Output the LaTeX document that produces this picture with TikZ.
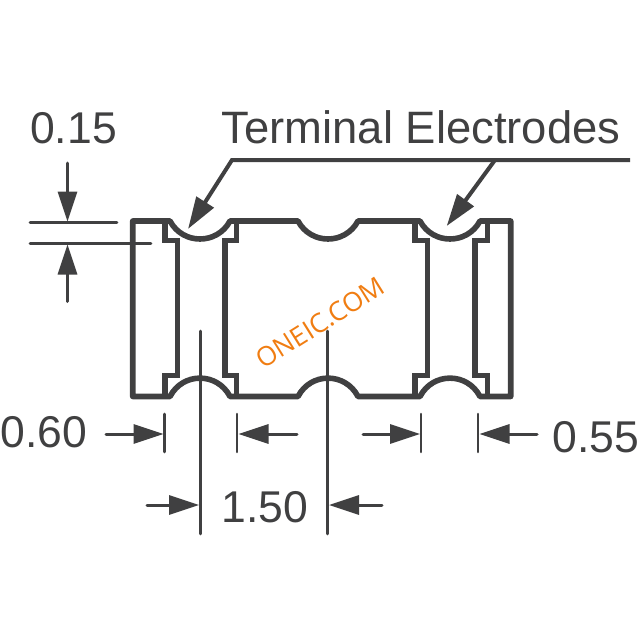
\documentclass[tikz,border=0pt]{standalone}
\usepackage{fontspec}
\setmainfont{Liberation Sans}
\newfontfamily\markfont{Open Sans}
\usetikzlibrary{arrows.meta}
\definecolor{ink}{HTML}{404041}
\definecolor{mark}{HTML}{F07D12}
\tikzset{
  body/.style={draw=ink,line width=5.6pt,line join=round,line cap=round},
  inner/.style={draw=ink,line width=5.2pt,line join=miter},
  dimline/.style={draw=ink,line width=2.6pt,line cap=round},
  dimarrow/.style={draw=ink,line width=3pt,line cap=round,-{Triangle[length=30pt,width=19pt,color=ink]}},
  leader/.style={draw=ink,line width=4pt,line join=miter,-{Triangle[length=32pt,width=20pt,color=ink]}},
  dimtext/.style={text=ink,font=\fontsize{44.5}{44.5}\selectfont,inner sep=0pt},
  termtext/.style={text=ink,font=\fontsize{45.4}{45.4}\selectfont,inner sep=0pt},
  watermark/.style={text=mark,font=\markfont\fontsize{26.5}{26.5}\selectfont,inner sep=0pt,rotate=32}
}
\begin{document}
\begin{tikzpicture}[x=1pt,y=-1pt]
\useasboundingbox (0,0) rectangle (640,640);
% package outline
\path[body] (132.7,221) -- (170,221)
  .. controls (182.8,245) and (217.2,245) .. (230,221) -- (298,221)
  .. controls (310.8,245) and (345.2,245) .. (358,221) -- (420,221)
  .. controls (432.8,245) and (467.2,245) .. (480,221) -- (510.7,221)
  -- (510.7,396.5) -- (480,396.5)
  .. controls (467.2,372) and (432.8,372) .. (420,396.5) -- (358,396.5)
  .. controls (345.2,372) and (310.8,372) .. (298,396.5) -- (230,396.5)
  .. controls (217.2,372) and (182.8,372) .. (170,396.5) -- (132.7,396.5) -- cycle;
% terminal edges
\path[inner] (165,221) -- (165,240.7) -- (177.3,240.7) -- (177.3,375.7) -- (165,375.7) -- (165,396.5);
\path[inner] (236.7,221) -- (236.7,240.7) -- (225,240.7) -- (225,375.7) -- (236.7,375.7) -- (236.7,396.5);
\path[inner] (415,221) -- (415,240.7) -- (427.7,240.7) -- (427.7,375.7) -- (415,375.7) -- (415,396.5);
\path[inner] (487.7,221) -- (487.7,240.7) -- (475,240.7) -- (475,375.7) -- (487.7,375.7) -- (487.7,396.5);
% thickness dimension
\coordinate (t1a) at (30,222.3); \coordinate (t1b) at (117,222.3);
\coordinate (t2a) at (30,243.5); \coordinate (t2b) at (151,243.5);
\draw[dimline] (t1a) -- (t1b);
\draw[dimline] (t2a) -- (t2b);
\coordinate (ta) at (67.5,163); \coordinate (tat) at (67.5,221.5);
\coordinate (tb) at (67.5,301.5); \coordinate (tbt) at (67.5,244.5);
\draw[dimarrow] (ta) -- (tat);
\draw[dimarrow] (tb) -- (tbt);
\node[dimtext] (l015) at (73.5,128.5) {0.15};
% leaders
\node[termtext] (lterm) at (421,127.5) {Terminal Electrodes};
\coordinate (ls) at (630,160); \coordinate (lk) at (232,160); \coordinate (lt) at (188,229);
\coordinate (rk) at (495,160); \coordinate (rt) at (446.7,226);
\draw[leader] (ls) -- (lk) -- (lt);
\draw[leader] (rk) -- (rt);
% extension lines
\foreach \n/\x in {e1/164.5,e2/237,e3/421,e4/478}{
  \coordinate (\n a) at (\x,414); \coordinate (\n b) at (\x,452);
  \draw[dimline] (\n a) -- (\n b);
}
\coordinate (c1a) at (200.5,331); \coordinate (c1b) at (200.5,534);
\coordinate (c2a) at (327.5,331); \coordinate (c2b) at (327.5,534);
\draw[dimline] (c1a) -- (c1b);
\draw[dimline] (c2a) -- (c2b);
% horizontal arrows
\coordinate (a1) at (106,434); \coordinate (a1t) at (163.5,434);
\coordinate (a2) at (297,434); \coordinate (a2t) at (238.5,434);
\coordinate (a3) at (363,434); \coordinate (a3t) at (420,434);
\coordinate (a4) at (537,434); \coordinate (a4t) at (479.5,434);
\coordinate (a5) at (147,505); \coordinate (a5t) at (199,505);
\coordinate (a6) at (382,505); \coordinate (a6t) at (329,505);
\draw[dimarrow] (a1) -- (a1t);
\draw[dimarrow] (a2) -- (a2t);
\draw[dimarrow] (a3) -- (a3t);
\draw[dimarrow] (a4) -- (a4t);
\draw[dimarrow] (a5) -- (a5t);
\draw[dimarrow] (a6) -- (a6t);
\node[dimtext] (l060) at (44,432) {0.60};
\node[dimtext] (l055) at (596,437) {0.55};
\node[dimtext] (l150) at (265,507) {1.50};
\node[watermark] (wm) at (320,323) {ONEIC.COM};
\end{tikzpicture}
\end{document}
